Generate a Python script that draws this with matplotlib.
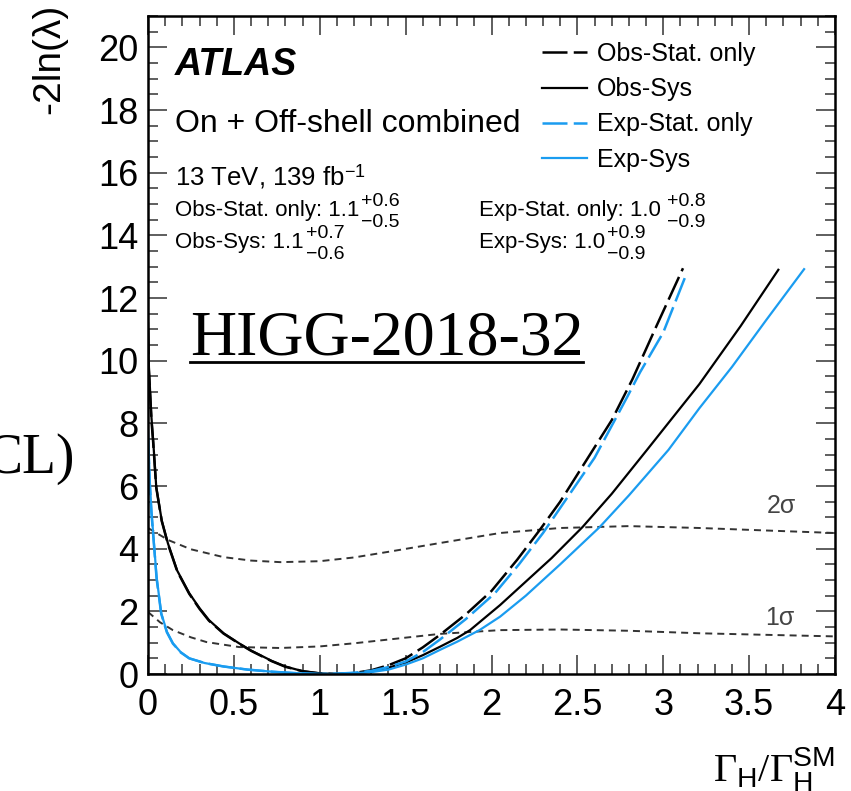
import matplotlib
matplotlib.use("Agg")
import matplotlib.pyplot as plt
from matplotlib.lines import Line2D
from matplotlib.ticker import MultipleLocator

plt.rcParams['font.family'] = ['Liberation Sans', 'DejaVu Sans']
plt.rcParams['mathtext.fontset'] = 'custom'
plt.rcParams['mathtext.rm'] = 'Liberation Serif'
plt.rcParams['mathtext.sf'] = 'Liberation Sans'
plt.rcParams['mathtext.it'] = 'Liberation Serif:italic'

# Obs-Sys (black solid)
obs_sys_x = [0.0, 0.005, 0.02, 0.03, 0.048, 0.08, 0.116, 0.17, 0.24, 0.3, 0.355, 0.44, 0.53, 0.6,
             0.72, 0.8, 0.9, 1.0, 1.1, 1.2, 1.3, 1.4, 1.51, 1.6, 1.7, 1.8, 1.875, 2.05, 2.2, 2.35,
             2.53, 2.7, 2.905, 3.05, 3.21, 3.45, 3.67]
obs_sys_y = [11.2, 9.8, 8.2, 7.46, 5.97, 4.9, 4.17, 3.3, 2.58, 2.1, 1.72, 1.3, 0.98, 0.75,
             0.42, 0.24, 0.09, 0.02, 0.0, 0.02, 0.08, 0.2, 0.39, 0.6, 0.87, 1.15, 1.4, 2.2, 2.95, 3.7,
             4.69, 5.75, 7.15, 8.15, 9.25, 11.1, 12.9]

# Obs-Stat. only (black dashed)
obs_stat_x = [0.0, 0.005, 0.02, 0.03, 0.048, 0.08, 0.116, 0.17, 0.24, 0.3, 0.355, 0.44, 0.53, 0.6,
              0.72, 0.8, 0.9, 1.0, 1.1, 1.2, 1.3, 1.4, 1.5, 1.6, 1.7, 1.85, 2.0, 2.15, 2.28,
              2.4, 2.55, 2.7, 2.82, 2.96, 3.115]
obs_stat_y = [11.0, 9.7, 8.1, 7.4, 5.95, 4.88, 4.15, 3.28, 2.56, 2.08, 1.7, 1.29, 0.97, 0.74,
              0.41, 0.23, 0.09, 0.02, 0.0, 0.03, 0.12, 0.28, 0.5, 0.85, 1.25, 1.9, 2.65, 3.65, 4.59,
              5.5, 6.8, 8.1, 9.4, 11.1, 12.95]

# Exp-Sys (blue solid)
exp_sys_x = [0.0, 0.01, 0.02, 0.03, 0.05, 0.077, 0.11, 0.145, 0.19, 0.24, 0.33, 0.44, 0.58, 0.73,
             0.85, 1.0, 1.15, 1.3, 1.4, 1.5, 1.6, 1.7, 1.8, 1.93, 2.05, 2.2, 2.4, 2.63, 2.8,
             3.03, 3.21, 3.4, 3.6, 3.82]
exp_sys_y = [7.78, 6.2, 5.2, 4.5, 3.1, 1.94, 1.35, 0.98, 0.7, 0.5, 0.35, 0.24, 0.14, 0.07,
             0.03, 0.0, 0.01, 0.06, 0.14, 0.3, 0.5, 0.77, 1.03, 1.4, 1.83, 2.5, 3.5, 4.69, 5.7,
             7.15, 8.48, 9.8, 11.3, 12.92]

# Exp-Stat. only (blue dashed)
exp_stat_x = [0.0, 0.01, 0.02, 0.03, 0.05, 0.077, 0.11, 0.145, 0.19, 0.24, 0.33, 0.44, 0.58, 0.73,
              0.85, 1.0, 1.1, 1.2, 1.3, 1.4, 1.5, 1.6, 1.7, 1.85, 2.02, 2.16, 2.3, 2.45, 2.6,
              2.79, 2.865, 3.0, 3.127]
exp_stat_y = [7.5, 6.1, 5.15, 4.45, 3.05, 1.92, 1.33, 0.97, 0.69, 0.5, 0.35, 0.24, 0.14, 0.07,
              0.03, 0.0, 0.01, 0.04, 0.1, 0.22, 0.4, 0.7, 1.1, 1.75, 2.58, 3.5, 4.5, 5.7, 6.9,
              8.84, 9.63, 10.9, 12.66]

# 2 sigma and 1 sigma thresholds
sig2_x = [0.0, 0.12, 0.25, 0.44, 0.6, 0.77, 1.0, 1.2, 1.4, 1.7, 2.05, 2.4, 2.8, 3.21, 3.6, 4.0]
sig2_y = [4.66, 4.27, 3.98, 3.73, 3.62, 3.57, 3.6, 3.72, 3.9, 4.18, 4.5, 4.66, 4.72, 4.66, 4.58, 4.5]
sig1_x = [0.0, 0.07, 0.145, 0.25, 0.34, 0.53, 0.77, 1.0, 1.2, 1.4, 1.7, 2.05, 2.4, 2.8, 3.21, 3.6, 4.0]
sig1_y = [1.98, 1.65, 1.4, 1.17, 1.02, 0.86, 0.83, 0.88, 0.98, 1.1, 1.28, 1.4, 1.42, 1.38, 1.3, 1.25, 1.2]

x_ticks = [0, 0.5, 1, 1.5, 2, 2.5, 3, 3.5, 4]
x_ticklabels = ['0', '0.5', '1', '1.5', '2', '2.5', '3', '3.5', '4']
y_ticks = [0, 2, 4, 6, 8, 10, 12, 14, 16, 18, 20]
y_ticklabels = ['0', '2', '4', '6', '8', '10', '12', '14', '16', '18', '20']

labels = ['Obs-Stat. only', 'Obs-Sys', 'Exp-Stat. only', 'Exp-Sys']
results = [('Obs-Stat. only: 1.1', '+0.6', '−0.5'),
           ('Obs-Sys: 1.1', '+0.7', '−0.6'),
           ('Exp-Stat. only: 1.0', '+0.8', '−0.9'),
           ('Exp-Sys: 1.0', '+0.9', '−0.9')]

BLUE = '#1a9cf0'
W, H = 851, 791


def fpos(x, y):
    # pixel position (from top-left) -> figure fraction
    return x / W, 1 - y / H


fig = plt.figure(figsize=(W / 100, H / 100), dpi=100)
ax = fig.add_axes([148 / W, 117 / H, 687 / W, 658 / H])

ax.plot(sig2_x, sig2_y, color='#333333', lw=1.4, dashes=(3.6, 2.6))
ax.plot(sig1_x, sig1_y, color='#333333', lw=1.4, dashes=(3.6, 2.6))
ax.plot(obs_stat_x, obs_stat_y, color='black', lw=1.8, dashes=(10, 2.5))
ax.plot(obs_sys_x, obs_sys_y, color='black', lw=1.6)
ax.plot(exp_stat_x, exp_stat_y, color=BLUE, lw=1.8, dashes=(10, 2.5))
ax.plot(exp_sys_x, exp_sys_y, color=BLUE, lw=1.6)

ax.set_xlim(0, 4)
ax.set_ylim(0, 21)
ax.set_xticks(x_ticks, x_ticklabels)
ax.set_yticks(y_ticks, y_ticklabels)
ax.xaxis.set_minor_locator(MultipleLocator(0.1))
ax.yaxis.set_minor_locator(MultipleLocator(0.5))
ax.tick_params(which='both', direction='in', top=True, right=True, width=1.1, color='#333333')
ax.tick_params(which='major', length=14, labelsize=26)
ax.tick_params(which='minor', length=7)
ax.tick_params(axis='x', pad=10)
ax.tick_params(axis='y', pad=7)
for s in ax.spines.values():
    s.set_linewidth(1.8)

ax.text(3.69, 5.15, '2σ', fontsize=18, color='#444444', ha='center', va='baseline')
ax.text(3.68, 1.55, '1σ', fontsize=18, color='#444444', ha='center', va='baseline')

handles = [Line2D([], [], color='black', lw=1.8, dashes=(10, 2.5)),
           Line2D([], [], color='black', lw=1.6),
           Line2D([], [], color=BLUE, lw=1.8, dashes=(10, 2.5)),
           Line2D([], [], color=BLUE, lw=1.6)]
ax.legend(handles, labels, loc='upper left', bbox_to_anchor=((542 - 148) / 687, (674 - 42) / 658),
          frameon=False, fontsize=18, handlelength=1.8, handletextpad=0.4,
          labelspacing=0.45, borderpad=0, borderaxespad=0)

fig.text(*fpos(175, 75), 'ATLAS', fontsize=27, fontweight='bold', fontstyle='italic', va='baseline')
fig.text(*fpos(175, 132), 'On + Off-shell combined', fontsize=23, va='baseline')
fig.text(*fpos(175, 185), r'13 TeV, 139 fb$^{\mathsf{-1}}$', fontsize=18.5, va='baseline')

# fitted values with asymmetric errors
renderer = fig.canvas.get_renderer()
rows = [(175, 216, 2), (175, 248, 2), (479, 216, 6), (479, 248, 2)]
for (x, y, gap), (main, up, down) in zip(rows, results):
    t = fig.text(*fpos(x, y), main, fontsize=16, va='baseline')
    x1 = t.get_window_extent(renderer).x1 + gap
    fig.text(x1 / W, 1 - (y - 10) / H, up, fontsize=14, va='baseline')
    fig.text(x1 / W, 1 - (y + 11) / H, down, fontsize=14, va='baseline')

fig.text(*fpos(49, 4), '-2ln(λ)', fontsize=28, rotation=90, ha='center', va='top')

fig.text(*fpos(190, 355), 'HIGG-2018-32', fontsize=46, family='Liberation Serif', va='baseline')
fig.add_artist(Line2D([190 / W, 583 / W], [1 - 362 / H, 1 - 362 / H], color='black', lw=2))
fig.text(*fpos(75, 473), 'CL)', fontsize=40, family='Liberation Serif', ha='right', va='baseline')
fig.text(*fpos(835, 782), r'$\Gamma_{\mathsf{H}}/\Gamma_{\mathsf{H}}^{\mathsf{SM}}$', fontsize=29,
         ha='right', va='baseline')

fig.savefig('out.png', dpi=100)
